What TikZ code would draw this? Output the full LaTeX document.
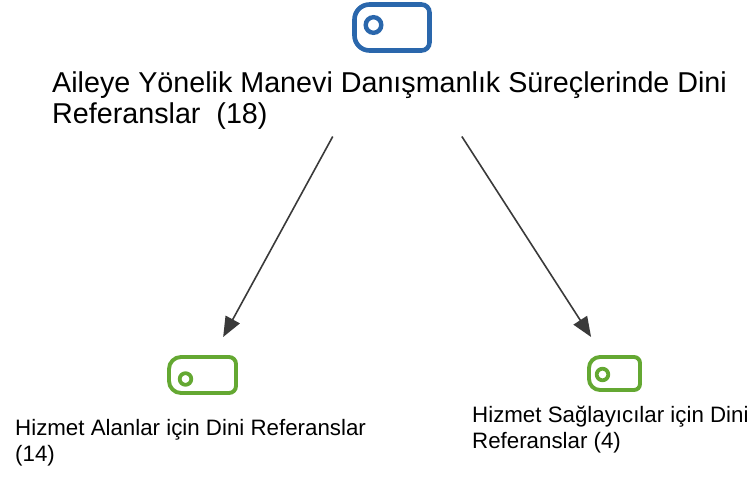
\documentclass[tikz,border=0pt]{standalone}
\usepackage{fontspec}
\setmainfont{Liberation Sans}
\usepackage{tikz}
\usetikzlibrary{arrows.meta}
\definecolor{rootblue}{HTML}{2A67AC}
\definecolor{codegreen}{HTML}{64A832}
\definecolor{linkgray}{HTML}{3A3A3A}

\begin{document}
\begin{tikzpicture}[x=1pt,y=-1pt,
    tagbox/.style={inner sep=0, outer sep=0},
    hitbox/.style={inner sep=0, outer sep=0},
    titletext/.style={font=\fontsize{28.7}{31}\selectfont, align=left, inner sep=0, anchor=base west},
    leaftext/.style={font=\fontsize{22.3}{26}\selectfont, align=left, inner sep=0, anchor=base west},
    link/.style={draw=linkgray, line width=1.6pt, -{Triangle[length=20pt,width=16pt]}}
    ]
    \useasboundingbox (0,0) rectangle (756,477);

    % icons
    \node[tagbox, minimum width=75pt, minimum height=46pt] (rooticon) at (392,27.5) {};
    \node[tagbox, minimum width=67pt, minimum height=36pt] (alicon) at (202.5,375) {};
    \node[tagbox, minimum width=51pt, minimum height=33pt] (sgicon) at (614.5,373.5) {};

    \foreach \n/\c/\w/\rl/\rr in {rooticon/rootblue/4.6/15/8, alicon/codegreen/3.9/12/7, sgicon/codegreen/3.9/11/6}
        \draw[\c, line width=\w pt]
        (\n.south) [rounded corners=\rl pt] -- (\n.south west) -- (\n.north west) -- (\n.north)
        [rounded corners=\rr pt] -- (\n.north east) -- (\n.south east) -- cycle;

    \draw[rootblue, line width=4.4pt] ([xshift=-18.5pt,yshift=2.5pt]rooticon.center) circle[radius=7.8pt];
    \draw[codegreen, line width=3.8pt] ([xshift=-17pt,yshift=-4pt]alicon.center) circle[radius=5.8pt];
    \draw[codegreen, line width=3.8pt] ([xshift=-12pt,yshift=-1pt]sgicon.center) circle[radius=5.8pt];

    % texts (anchor on the last line)
    \node[titletext] (title) at (52,123) {Aileye Yönelik Manevi Danışmanlık Süreçlerinde Dini\\Referanslar\ \ (18)};
    \node[leaftext] (altext) at (15,461) {Hizmet Alanlar için Dini Referanslar\\(14)};
    \node[leaftext] (sgtext) at (472,448) {Hizmet Sağlayıcılar için Dini\\Referanslar (4)};

    % connectors
    \node[hitbox, minimum width=600pt, minimum height=218pt] (root) at (rooticon.center) {};
    \node[hitbox, minimum width=200pt, minimum height=76pt] (al) at (alicon.center) {};
    \node[hitbox, minimum width=200pt, minimum height=73pt] (sg) at (sgicon.center) {};
    \draw[link] (root) -- (al);
    \draw[link] (root) -- (sg);

\end{tikzpicture}
\end{document}
